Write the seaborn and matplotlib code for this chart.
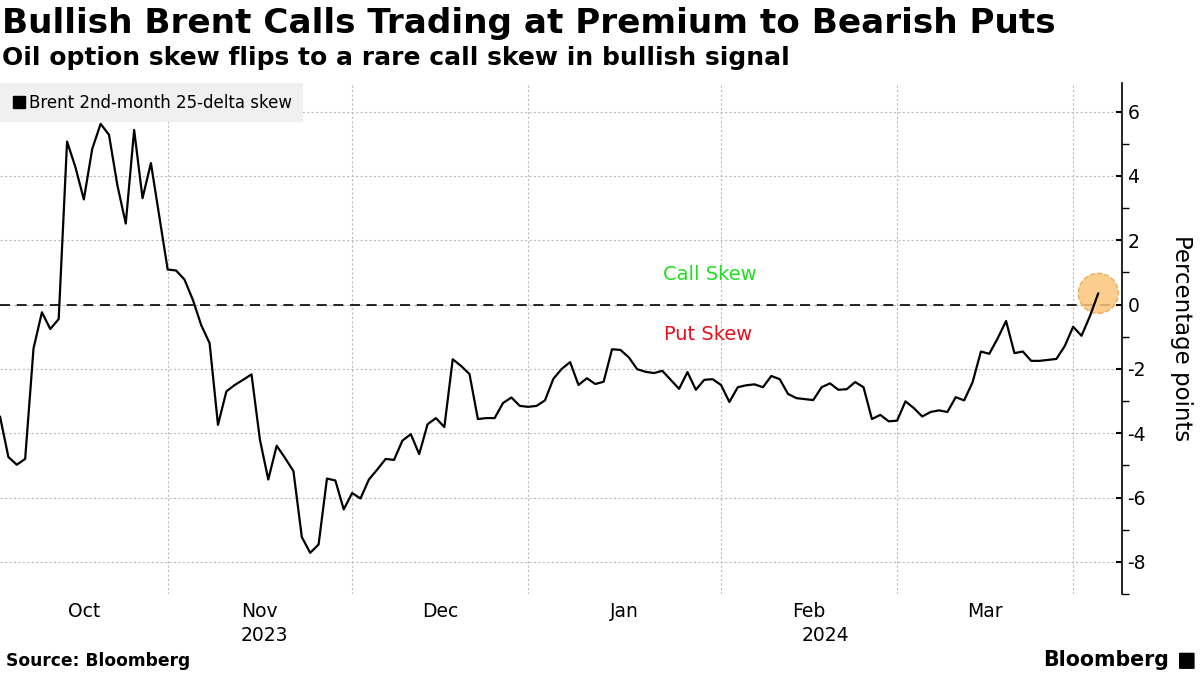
import numpy as np
import pandas as pd
import matplotlib
matplotlib.use("Agg")
import matplotlib.pyplot as plt
from matplotlib.lines import Line2D
from matplotlib.patches import FancyBboxPatch
import seaborn as sns

# data (business days from 4 Oct 2023)
start_date = "2023-10-04"
skew = [
    -3.48, -4.74, -4.98, -4.80, -1.36, -0.24, -0.76, -0.45, 5.07, 4.27,
    3.27, 4.84, 5.62, 5.28, 3.71, 2.52, 5.43, 3.31, 4.40, 2.75,
    1.09, 1.06, 0.78, 0.15, -0.64, -1.20, -3.74, -2.70, -2.50, -2.34,
    -2.17, -4.20, -5.44, -4.39, -4.77, -5.18, -7.23, -7.72, -7.46, -5.41,
    -5.47, -6.37, -5.86, -6.03, -5.44, -5.13, -4.80, -4.83, -4.23, -4.03,
    -4.65, -3.72, -3.53, -3.81, -1.70, -1.91, -2.16, -3.56, -3.53, -3.53,
    -3.06, -2.89, -3.15, -3.18, -3.15, -2.98, -2.31, -2.00, -1.79, -2.50,
    -2.29, -2.47, -2.40, -1.39, -1.41, -1.64, -2.01, -2.09, -2.13, -2.06,
    -2.34, -2.62, -2.10, -2.65, -2.34, -2.32, -2.50, -3.03, -2.57, -2.51,
    -2.48, -2.57, -2.22, -2.32, -2.78, -2.91, -2.94, -2.97, -2.57, -2.45,
    -2.65, -2.63, -2.41, -2.57, -3.56, -3.43, -3.63, -3.61, -3.01, -3.22,
    -3.48, -3.34, -3.29, -3.34, -2.88, -2.98, -2.42, -1.46, -1.53, -1.05,
    -0.51, -1.51, -1.46, -1.75, -1.75, -1.72, -1.69, -1.29, -0.69, -0.97,
    -0.36, 0.35,
]
series_label = "Brent 2nd-month 25-delta skew"
y_ticks = [-8, -6, -4, -2, 0, 2, 4, 6]

dates = pd.bdate_range(start_date, periods=len(skew))
df = pd.DataFrame({"date": dates, "pos": np.arange(len(skew)), "skew": skew})

sns.set_style("white")
plt.rcParams["font.family"] = ["DejaVu Sans"]
plt.rcParams["text.color"] = "black"
plt.rcParams["axes.labelcolor"] = "black"
plt.rcParams["xtick.color"] = "black"
plt.rcParams["ytick.color"] = "black"

fig = plt.figure(figsize=(12, 6.75), dpi=100)
ax = fig.add_axes([0.0, 0.12, 0.9348, 0.7575])

x_max = 133.8
ax.set_xlim(0, x_max)
ax.set_ylim(-9, 6.9)

# month boundaries -> gridlines, labels in the middle of each month
month_key = df["date"].dt.to_period("M")
bounds = df.loc[month_key != month_key.shift(), "pos"].tolist()
edges = [0] + bounds[1:] + [x_max]
label_pos, label_txt = [], []
for i in range(len(edges) - 1):
    m = df.loc[df["pos"] >= edges[i], "date"].iloc[0]
    if edges[i + 1] - edges[i] < 10:
        continue
    label_pos.append((edges[i] + edges[i + 1]) / 2)
    label_txt.append(m.strftime("%b"))
ax.set_xticks(label_pos)
ax.set_xticklabels(label_txt, fontsize=13.5)
ax.set_xticks(bounds[1:], minor=True)
ax.tick_params(axis="x", which="both", length=0, pad=6)
ax.grid(True, axis="x", which="minor", color="#bbbbbb", linestyle=(0, (2, 2)), linewidth=0.8)

# year labels centred on their visible span
year_key = df["date"].dt.year
for yr in year_key.unique():
    lo = max(df.loc[year_key == yr, "pos"].min(), 0)
    hi = x_max if yr == year_key.max() else df.loc[year_key > yr, "pos"].min()
    ax.text((lo + hi) / 2, -0.082, str(yr), transform=ax.get_xaxis_transform(),
            ha="center", va="center", fontsize=13.5)

# y axis on the right
ax.yaxis.tick_right()
ax.yaxis.set_label_position("right")
ax.set_yticks(y_ticks)
ax.set_yticklabels([str(t) for t in y_ticks], fontsize=13.5)
ax.set_yticks(np.arange(-9, 7, 2), minor=True)
ax.tick_params(axis="y", which="major", length=4, width=1.5, direction="in", pad=4)
ax.tick_params(axis="y", which="minor", length=5, width=1, direction="out")
ax.grid(True, axis="y", which="major", color="#bbbbbb", linestyle=(0, (2, 2)), linewidth=0.8)
ax.set_ylabel("Percentage points", fontsize=16.5, rotation=270, labelpad=34)
for side in ["left", "top", "bottom"]:
    ax.spines[side].set_visible(False)
ax.spines["right"].set_color("black")
ax.spines["right"].set_linewidth(1.2)

ax.axhline(0, color="black", linestyle=(0, (6, 4)), linewidth=1.2, zorder=2)

sns.lineplot(data=df, x="pos", y="skew", color="black", linewidth=1.6, ax=ax, zorder=4)
ax.set_xlabel("")

# highlight latest point
ax.scatter(df["pos"].iloc[-1], df["skew"].iloc[-1], s=830, facecolor="#fbc57a", alpha=0.85,
           edgecolor="#e9a545", linestyle="--", linewidth=1, zorder=3)

ax.text(84.7, 0.95, "Call Skew", color="#22dd22", fontsize=14, ha="center", va="center")
ax.text(84.5, -0.93, "Put Skew", color="#e8101c", fontsize=14, ha="center", va="center")

handle = Line2D([], [], marker="s", color="black", linestyle="", markersize=8)
leg = ax.legend([handle], [series_label], loc="upper left", bbox_to_anchor=(0, 1),
                borderaxespad=0, frameon=True, fontsize=12, handletextpad=0.1,
                handlelength=1, borderpad=0.65, fancybox=False)
leg.get_frame().set_facecolor("#f0f0f0")
leg.get_frame().set_edgecolor("none")
leg.get_frame().set_alpha(1)

fig.text(0.002, 0.99, "Bullish Brent Calls Trading at Premium to Bearish Puts",
         fontsize=24.7, weight="bold", va="top", ha="left")
fig.text(0.002, 0.932, "Oil option skew flips to a rare call skew in bullish signal",
         fontsize=18, weight="bold", va="top", ha="left")
fig.text(0.005, 0.02, "Source: Bloomberg", fontsize=12.3, weight="bold", va="center", ha="left")
fig.text(0.974, 0.022, "Bloomberg", fontsize=14.8, weight="bold", va="center", ha="right")
fig.add_artist(FancyBboxPatch((0.9835, 0.01), 0.011, 0.022, boxstyle="round,pad=0.001",
                              transform=fig.transFigure, facecolor="black", edgecolor="none"))

fig.savefig("out.png", dpi=100)
